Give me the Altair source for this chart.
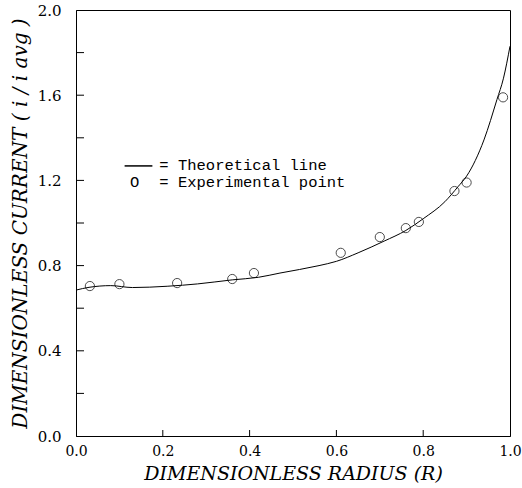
import altair as alt
import pandas as pd

# Theoretical curve
curve_x = [0.0, 0.03, 0.08, 0.13, 0.21, 0.28, 0.36, 0.42, 0.47, 0.56, 0.60, 0.65,
           0.71, 0.76, 0.80, 0.85, 0.88, 0.90, 0.94, 0.97, 0.985, 1.0]
curve_y = [0.685, 0.698, 0.706, 0.697, 0.703, 0.714, 0.733, 0.745, 0.765, 0.80, 0.82, 0.86,
           0.915, 0.965, 1.02, 1.10, 1.17, 1.22, 1.39, 1.58, 1.68, 1.83]

# Experimental points
exp_x = [0.032, 0.10, 0.233, 0.36, 0.41, 0.61, 0.70, 0.76, 0.79, 0.872, 0.90, 0.984]
exp_y = [0.704, 0.713, 0.718, 0.737, 0.765, 0.86, 0.934, 0.976, 1.005, 1.15, 1.19, 1.59]

x_ticks = [0.0, 0.2, 0.4, 0.6, 0.8, 1.0]
y_labels = [0.0, 0.4, 0.8, 1.2, 1.6, 2.0]
y_ticks = [0.2, 0.4, 0.6, 0.8, 1.0, 1.2, 1.4, 1.6, 1.8]
x_inner_ticks = [0.2, 0.4, 0.6, 0.8]

legend_line_x = [0.112, 0.176]
legend_line_y = [1.268, 1.268]
legend_text = ["= Theoretical line", "= Experimental point"]
legend_text_x = [0.192, 0.192]
legend_text_y = [1.248, 1.170]
legend_sym = ["O"]
legend_sym_x = [0.135]
legend_sym_y = [1.170]

curve = pd.DataFrame({"x": curve_x, "y": curve_y})
exp = pd.DataFrame({"x": exp_x, "y": exp_y})

xs = alt.Scale(domain=[0, 1], nice=False, zero=False)
ys = alt.Scale(domain=[0, 2], nice=False, zero=False)

xaxis = alt.Axis(values=x_ticks, format=".1f", grid=False, ticks=False,
                 labelPadding=8, labelFontSize=14, title="DIMENSIONLESS  RADIUS  (R)",
                 titlePadding=6, labelFlush=False)
yaxis = alt.Axis(values=y_labels, format=".1f", grid=False, ticks=False,
                 labelPadding=15, title="DIMENSIONLESS  CURRENT  ( i / i avg )",
                 titlePadding=7, labelFlush=False)

line = alt.Chart(curve).mark_line(color="black", strokeWidth=1, interpolate="monotone").encode(
    x=alt.X("x:Q", scale=xs, axis=xaxis),
    y=alt.Y("y:Q", scale=ys, axis=yaxis),
)

pts = alt.Chart(exp).mark_point(shape="circle", size=85, filled=False, color="black",
                                strokeWidth=1).encode(
    x=alt.X("x:Q", scale=xs), y=alt.Y("y:Q", scale=ys))

ytk = alt.Chart(pd.DataFrame({"y": y_ticks})).mark_rule(color="black", strokeWidth=1).encode(
    y=alt.Y("y:Q", scale=ys), x=alt.value(0), x2=alt.value(8))
xtk = alt.Chart(pd.DataFrame({"x": x_inner_ticks})).mark_rule(color="black", strokeWidth=1).encode(
    x=alt.X("x:Q", scale=xs), y=alt.value(426), y2=alt.value(420))

leg_line = alt.Chart(pd.DataFrame({"x": legend_line_x, "y": legend_line_y})).mark_line(
    color="black", strokeWidth=1.5).encode(x=alt.X("x:Q", scale=xs), y=alt.Y("y:Q", scale=ys))
leg_text = alt.Chart(pd.DataFrame({"x": legend_text_x, "y": legend_text_y, "t": legend_text})).mark_text(
    align="left", baseline="alphabetic", font="Liberation Mono", fontSize=15.5, color="black").encode(
    x=alt.X("x:Q", scale=xs), y=alt.Y("y:Q", scale=ys), text="t:N")
leg_sym = alt.Chart(pd.DataFrame({"x": legend_sym_x, "y": legend_sym_y, "t": legend_sym})).mark_text(
    align="center", baseline="alphabetic", font="Liberation Mono", fontSize=15.5, color="black").encode(
    x=alt.X("x:Q", scale=xs), y=alt.Y("y:Q", scale=ys), text="t:N")

chart = alt.layer(line, pts, ytk, xtk, leg_line, leg_text, leg_sym).properties(
    width=434, height=426,
    autosize=alt.AutoSizeParams(type="none"),
    padding={"left": 76, "top": 10, "right": 12, "bottom": 52},
    background="white",
).configure_view(stroke="black", strokeWidth=1).configure_axis(
    labelFont="DejaVu Serif", labelFontSize=15, labelColor="black",
    domainColor="black", titleFont="DejaVu Serif", titleFontStyle="italic",
    titleFontWeight="normal", titleFontSize=19, titleColor="black",
).configure_axisY(titleFontSize=20)

chart.save("out.html", embed_options={"renderer": "svg", "actions": False})
